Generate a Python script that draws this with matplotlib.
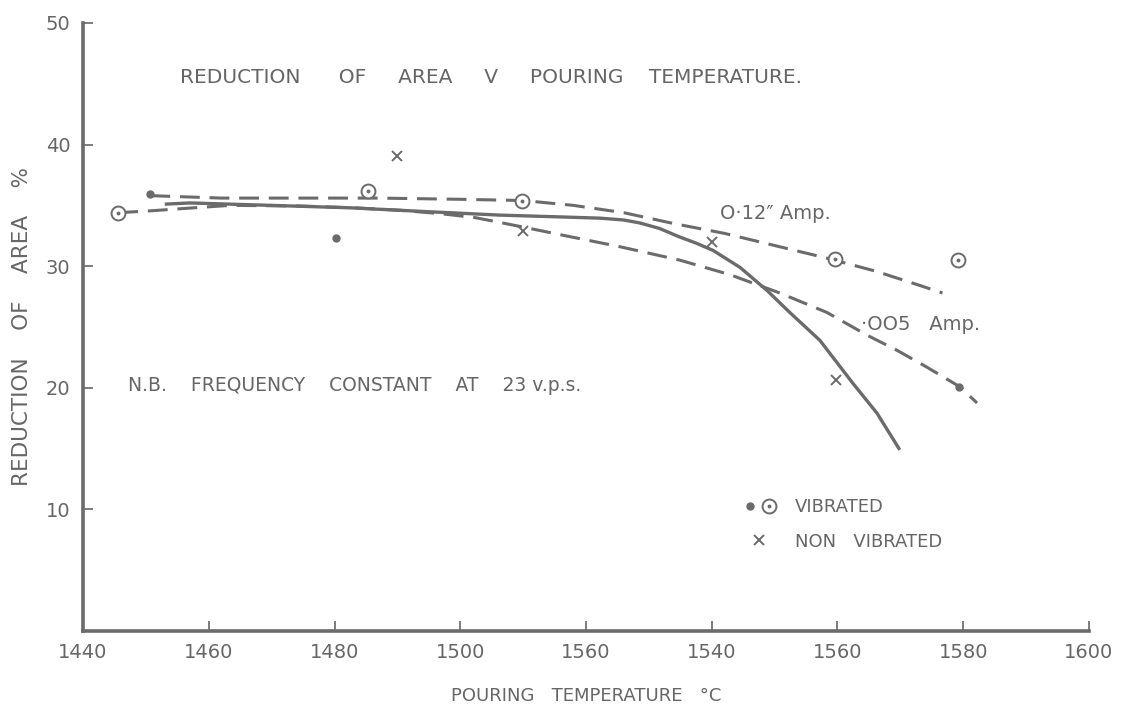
import matplotlib
matplotlib.use("Agg")
import matplotlib.pyplot as plt
from matplotlib.path import Path
from matplotlib.legend_handler import HandlerTuple

plt.rcParams.update({
    'font.family': ['DejaVu Sans'],
    'text.color': '#666666',
    'axes.labelcolor': '#666666',
    'xtick.color': '#666666',
    'ytick.color': '#666666',
})

INK = '#6b6b6b'

# tick labels as printed on the original (note the "1560" at 1520)
x_ticks = [1440, 1460, 1480, 1500, 1520, 1540, 1560, 1580, 1600]
x_tick_labels = ['1440', '1460', '1480', '1500', '1560', '1540', '1560', '1580', '1600']
y_ticks = [10, 20, 30, 40, 50]

# measured points
vib_ring_temp = [1445.6, 1485.3, 1509.8, 1559.6, 1579.1]
vib_ring_ra = [34.4, 36.2, 35.4, 30.6, 30.5]
vib_dot_temp = [1450.7, 1480.2, 1579.4]
vib_dot_ra = [35.9, 32.3, 20.1]
nonvib_temp = [1489.9, 1510.0, 1540.0, 1559.7]
nonvib_ra = [39.1, 32.9, 32.0, 20.6]

# hand drawn curves
amp012_temp = [1450.7, 1462, 1475, 1487, 1500, 1510, 1518, 1526, 1534, 1542, 1550, 1558, 1566, 1572, 1576.7]
amp012_ra = [35.8, 35.6, 35.6, 35.6, 35.5, 35.4, 35.0, 34.4, 33.5, 32.7, 31.7, 30.7, 29.6, 28.6, 27.8]

amp005_temp = [1445.6, 1450.7, 1456.2, 1463.4, 1474.5, 1483, 1490.4, 1497.2, 1502.3, 1506.3,
               1511.1, 1515.8, 1525.4, 1534.9, 1542.9, 1550.8, 1558.3, 1564.8, 1569.4, 1574.2,
               1579.4, 1582.2]
amp005_ra = [34.4, 34.55, 34.75, 35.0, 34.95, 34.8, 34.6, 34.3, 34.0, 33.6,
             33.1, 32.6, 31.6, 30.5, 29.3, 27.8, 26.2, 24.3, 23.1, 21.7,
             20.1, 18.75]

nonvib_line_temp = [1453, 1457, 1470, 1482.5, 1494.1, 1506.3, 1516, 1522.2, 1526, 1528.6, 1531.7,
                    1534.9, 1537.5, 1540.2, 1544.5, 1548.8, 1552.4, 1557.2, 1562.4, 1566.3, 1569.9]
nonvib_line_ra = [35.1, 35.2, 35.0, 34.8, 34.5, 34.2, 34.05, 33.95, 33.8, 33.55, 33.1,
                  32.4, 31.9, 31.3, 29.9, 28.0, 26.2, 23.9, 20.4, 17.9, 14.9]

fig = plt.figure(figsize=(11.28, 7.05), dpi=100)
ax = fig.add_axes([0.0736, 0.105, 0.8918, 0.8624])

dash = (0, (6.5, 3.2))
ax.plot(amp012_temp, amp012_ra, color=INK, lw=2.2, linestyle=dash)
ax.plot(amp005_temp, amp005_ra, color=INK, lw=2.2, linestyle=dash)
ax.plot(nonvib_line_temp, nonvib_line_ra, color=INK, lw=2.4, solid_capstyle='butt')

odot = Path.make_compound_path(Path.unit_circle(), Path.circle((0, 0), 0.14))
ring, = ax.plot(vib_ring_temp, vib_ring_ra, linestyle='none', marker=odot, ms=10,
                mfc='white', mec=INK, mew=1.4)
dot, = ax.plot(vib_dot_temp, vib_dot_ra, linestyle='none', marker='o', ms=5,
               mfc=INK, mec=INK)
cross, = ax.plot(nonvib_temp, nonvib_ra, linestyle='none', marker='x', ms=7,
                 mec=INK, mew=1.4)

ax.set_xlim(1440, 1600)
ax.set_ylim(0, 50)
ax.set_xticks(x_ticks)
ax.set_xticklabels(x_tick_labels)
ax.set_yticks(y_ticks)
ax.tick_params(direction='in', length=7, width=1.2, labelsize=14, pad=9)

for side in ['top', 'right']:
    ax.spines[side].set_visible(False)
for side in ['left', 'bottom']:
    ax.spines[side].set_linewidth(2.6)
    ax.spines[side].set_color(INK)

ax.set_xlabel('POURING   TEMPERATURE   \u00b0C', fontsize=13, labelpad=18)
ax.set_ylabel('REDUCTION    OF    AREA    %', fontsize=15.5, labelpad=10)

ax.text(1455.4, 45.5, 'REDUCTION      OF     AREA     V     POURING    TEMPERATURE.',
        fontsize=14.5, ha='left', va='center')
ax.text(1447.2, 20.2, 'N.B.    FREQUENCY    CONSTANT    AT    23 v.p.s.',
        fontsize=13.5, ha='left', va='center')
ax.text(1541.3, 34.3, 'O\u00b712\u2033 Amp.', fontsize=14, ha='left', va='center')
ax.text(1563.7, 25.2, '\u00b7OO5   Amp.', fontsize=14, ha='left', va='center')

leg = ax.legend([(dot, ring), cross], ['VIBRATED', 'NON   VIBRATED'],
                handler_map={tuple: HandlerTuple(ndivide=None, pad=0.1)},
                loc='upper left', bbox_to_anchor=(0.638, 0.245), frameon=False,
                fontsize=13, handlelength=2.0, handletextpad=1.0, labelspacing=0.9)

fig.savefig('out.png', dpi=100, facecolor='white')
